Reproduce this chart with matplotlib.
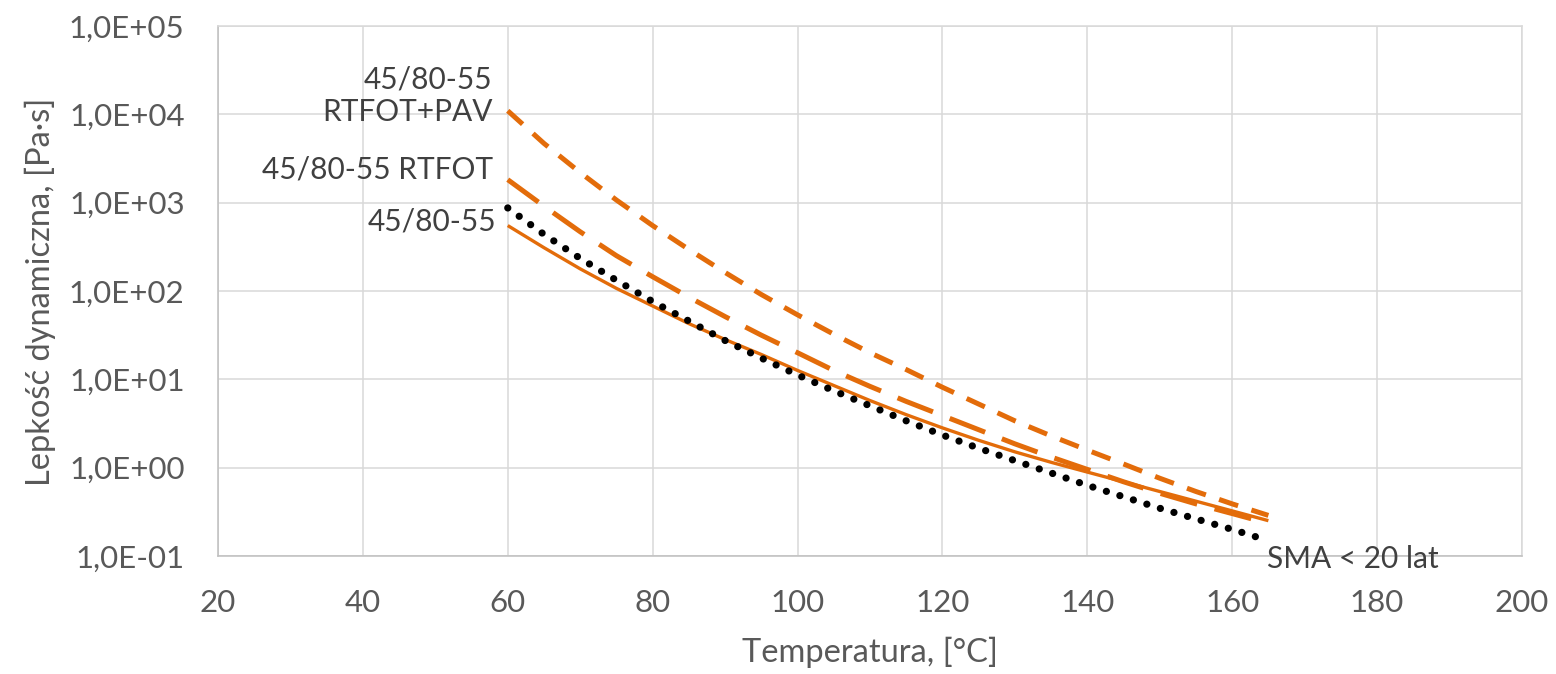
import matplotlib
matplotlib.use("Agg")
import matplotlib.pyplot as plt
from matplotlib.ticker import FixedLocator, FuncFormatter, NullLocator

plt.rcParams['font.family'] = ['Lato', 'DejaVu Sans']

# temperatura [°C]
temp = [60, 65, 70, 75, 80, 85, 90, 95, 100, 105, 110, 115,
        120, 125, 130, 135, 140, 145, 150, 155, 160, 165]
temp_sma = [60, 65, 70, 75, 80, 85, 90, 95, 100, 105, 110, 115,
            120, 125, 130, 135, 140, 145, 150, 155, 160, 164]

# lepkosc dynamiczna [Pa·s]
visc_base = [550, 309, 178, 107, 67.6, 42.7, 28.2, 19.1, 12.6, 8.51, 5.75, 3.98,
             2.82, 2.04, 1.51, 1.15, 0.891, 0.692, 0.537, 0.417, 0.324, 0.251]
visc_rtfot = [1820, 912, 468, 251, 145, 85.1, 51.3, 31.6, 20.0, 12.6, 8.32, 5.62,
              3.89, 2.69, 1.86, 1.32, 0.955, 0.692, 0.513, 0.389, 0.302, 0.234]
visc_pav = [10960, 4680, 2190, 1070, 550, 295, 162, 91.2, 53.7, 32.4, 20.0, 12.9,
            8.13, 5.25, 3.39, 2.29, 1.58, 1.10, 0.759, 0.537, 0.389, 0.288]
visc_sma = [871, 437, 234, 132, 75.9, 45.7, 27.5, 17.4, 11.2, 7.41, 5.01, 3.39,
            2.34, 1.66, 1.20, 0.871, 0.631, 0.468, 0.347, 0.263, 0.200, 0.158]

x_ticks = [20, 40, 60, 80, 100, 120, 140, 160, 180, 200]
y_ticks = [1e-1, 1e0, 1e1, 1e2, 1e3, 1e4, 1e5]

orange = '#E36C0A'
txt = '#595959'
lbl = '#404040'
grid = '#D9D9D9'

fig = plt.figure(figsize=(15.56, 6.74), dpi=100)
ax = fig.add_axes([0.1401, 0.1751, 0.8380, 0.7864])

ax.plot(temp, visc_pav, color=orange, lw=3.6, linestyle=(0, (4.0, 2.8)),
        dash_capstyle='butt')
ax.plot(temp, visc_rtfot, color=orange, lw=3.6, linestyle=(0, (7.6, 3.6)),
        dash_capstyle='butt')
ax.plot(temp, visc_base, color=orange, lw=2.4, solid_capstyle='butt')
ax.plot(temp_sma, visc_sma, color='black', lw=5.2, linestyle=(0, (0.01, 1.95)),
        dash_capstyle='round')

ax.set_yscale('log')
ax.set_xlim(20, 200)
ax.set_ylim(1e-1, 1e5)
ax.xaxis.set_major_locator(FixedLocator(x_ticks))
ax.yaxis.set_major_locator(FixedLocator(y_ticks))
ax.yaxis.set_minor_locator(NullLocator())


def sci_pl(v, pos):
    s = '{:.1E}'.format(v)
    return s.replace('.', ',')


ax.yaxis.set_major_formatter(FuncFormatter(sci_pl))
ax.tick_params(axis='both', length=0, labelsize=22.5, labelcolor=txt)
ax.tick_params(axis='x', pad=24)
ax.tick_params(axis='y', pad=24)

ax.grid(True, color=grid, lw=1.1)
ax.set_axisbelow(True)
for side in ['top', 'right']:
    ax.spines[side].set_color(grid)
    ax.spines[side].set_linewidth(1.1)
for side in ['left', 'bottom']:
    ax.spines[side].set_color('#BFBFBF')
    ax.spines[side].set_linewidth(1.1)

# etykiety serii
ax.annotate('45/80-55\nRTFOT+PAV', (temp[0], visc_pav[0]), xytext=(-15, 15),
            textcoords='offset pixels', ha='right', va='center', fontsize=21.5,
            color=lbl, linespacing=1.2, multialignment='right')
ax.annotate('45/80-55 RTFOT', (temp[0], visc_rtfot[0]), xytext=(-15, 10),
            textcoords='offset pixels', ha='right', va='center', fontsize=21.5,
            color=lbl)
ax.annotate('45/80-55', (temp[0], visc_base[0]), xytext=(-11, 4),
            textcoords='offset pixels', ha='right', va='center', fontsize=21.5,
            color=lbl)
ax.annotate('SMA < 20 lat', (temp_sma[-1], visc_sma[-1]), xytext=(6, -21),
            textcoords='offset pixels', ha='left', va='center', fontsize=21.5,
            color=lbl, annotation_clip=False)

fig.text(870 / 1556, 1 - 662 / 674, 'Temperatura, [°C]', ha='center',
         va='baseline', fontsize=23.5, color=txt)
fig.text(40 / 1556, 1 - 292 / 674, 'Lepkość dynamiczna, [Pa·s]', ha='center',
         va='center', rotation=90, fontsize=23.5, color=txt)

fig.savefig('out.png', dpi=100)
